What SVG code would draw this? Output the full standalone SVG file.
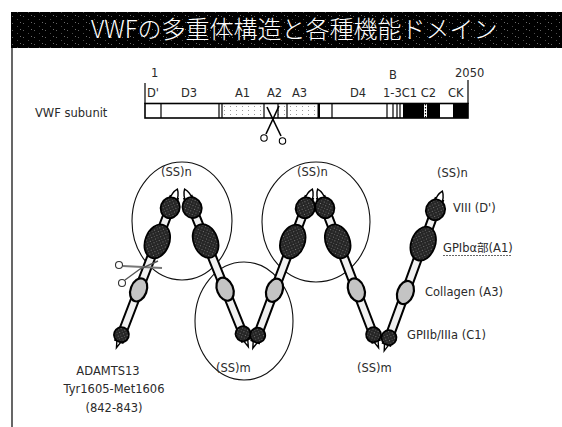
<svg xmlns="http://www.w3.org/2000/svg" width="562" height="427" viewBox="0 0 562 427">
  <style>
    .lbl { font-family: "DejaVu Sans", "Noto Sans CJK JP", sans-serif; font-size: 11.5px; fill: #2a2a2a; }
    .title { font-family: "Noto Sans CJK JP", "Noto Sans", sans-serif; font-size: 24px; fill: #fff; font-weight: 300; }
    .ring { fill: none; stroke: #111; stroke-width: 1.1; }
    .dark { fill: url(#stipple); stroke: #000; stroke-width: 1.8; }
    .light { fill: #c4c4c4; stroke: #000; stroke-width: 2.2; }
    .tip { fill: #fff; stroke: #000; stroke-width: 1.4; }
    .stalk { fill: #f0f0f0; stroke: #000; stroke-width: 2; }
    .seg { stroke: #000; stroke-width: 1.2; }
  </style>
  <defs>
    <pattern id="stipple" width="4" height="4" patternUnits="userSpaceOnUse">
      <rect width="4" height="4" fill="#262626"/>
      <rect x="1" y="1" width="1" height="1" fill="#777"/>
      <rect x="3" y="3" width="1" height="1" fill="#555"/>
    </pattern>
    <pattern id="grain" width="11" height="7" patternUnits="userSpaceOnUse">
      <rect x="1" y="2" width="1" height="1" fill="#8a8a8a"/>
      <rect x="6" y="5" width="1" height="1" fill="#6a6a6a"/>
      <rect x="9" y="1" width="1" height="1" fill="#9a9a9a"/>
    </pattern>
    <pattern id="dots" width="6" height="4" patternUnits="userSpaceOnUse">
      <rect width="6" height="4" fill="#fff"/>
      <rect x="2" y="2" width="1" height="1" fill="#999"/>
    </pattern>
    <!-- one subunit: N-terminal tip at the origin, C-terminal end down the +y axis -->
    <g id="subunit">
      <rect class="stalk" x="-4" y="8" width="8" height="154"/>
      <path class="tip" d="M0,-1 C2.5,2 4,7 3.6,13 L-3.6,13 C-4,7 -2.5,2 0,-1 Z"/>
      <ellipse class="dark" cx="0" cy="19" rx="9.5" ry="10.5"/>
      <ellipse class="dark" cx="0" cy="55" rx="12" ry="17.5"/>
      <ellipse class="light" cx="0" cy="107" rx="8" ry="12"/>
      <path class="tip" d="M-2.8,160 L0,169 L2.8,160 Z"/>
      <circle class="dark" cx="0" cy="155" r="7.5"/>
    </g>
  </defs>

  <rect width="562" height="427" fill="#fff"/>

  <!-- title bar -->
  <g id="title">
    <rect x="11" y="12" width="551" height="36" fill="#000"/>
    <rect x="11" y="12" width="551" height="36" fill="url(#grain)" opacity="0.7"/>
    <text class="title" x="91" y="38">VWFの多重体構造と各種機能ドメイン</text>
  </g>
  <line x1="12" y1="48" x2="12" y2="427" stroke="#000" stroke-width="1.2"/>

  <!-- domain map of a single subunit -->
  <g id="subunit-map">
    <text class="lbl" x="35" y="117">VWF subunit</text>
    <text class="lbl" x="151" y="77">1</text>
    <text class="lbl" x="389" y="79">B</text>
    <text class="lbl" x="455" y="77">2050</text>
    <line class="seg" x1="145" y1="83" x2="145" y2="104"/>
    <line class="seg" x1="468" y1="80" x2="468" y2="104"/>
    <text class="lbl" x="147" y="97">D'</text>
    <text class="lbl" x="181" y="97">D3</text>
    <text class="lbl" x="235" y="97">A1</text>
    <text class="lbl" x="267" y="97">A2</text>
    <text class="lbl" x="292" y="97">A3</text>
    <text class="lbl" x="350" y="97">D4</text>
    <text class="lbl" x="383" y="97">1-3C1 C2</text>
    <text class="lbl" x="448" y="97">CK</text>
    <rect x="145" y="103.5" width="323" height="14.5" fill="#fff"/>
    <rect x="222" y="104" width="42" height="13" fill="url(#dots)"/>
    <rect x="278" y="104" width="9" height="13" fill="url(#dots)"/>
    <rect x="287" y="104" width="31" height="13" fill="url(#dots)"/>
    <rect x="403" y="103.5" width="21" height="14.5" fill="#000"/>
    <rect x="427" y="103.5" width="13" height="14.5" fill="#000"/>
    <rect x="453" y="103.5" width="15" height="14.5" fill="#000"/>
    <rect x="317.5" y="103.5" width="2.5" height="14.5" fill="#000"/>
    <g class="seg">
      <line x1="161" y1="104" x2="161" y2="118"/>
      <line x1="219" y1="104" x2="219" y2="118"/>
      <line x1="222" y1="104" x2="222" y2="118"/>
      <line x1="264" y1="104" x2="264" y2="118"/>
      <line x1="278" y1="104" x2="278" y2="118"/>
      <line x1="287" y1="104" x2="287" y2="118"/>
      <line x1="332" y1="104" x2="332" y2="118"/>
      <line x1="387" y1="104" x2="387" y2="118"/>
      <line x1="393" y1="104" x2="393" y2="118"/>
      <line x1="397" y1="104" x2="397" y2="118"/>
      <line x1="400" y1="104" x2="400" y2="118"/>
      <line x1="425.5" y1="104" x2="425.5" y2="118" stroke-dasharray="1.5 1.5"/>
    </g>
    <rect x="145" y="103.5" width="323" height="14.5" fill="none" stroke="#000" stroke-width="1.6"/>
    <!-- cleavage in A2 -->
    <g id="scissors-a2" fill="none" stroke="#000" stroke-width="1.1">
      <path d="M279,106 L266,134" stroke-width="1.6"/>
      <path d="M267,107 L281,136" stroke-width="1.6"/>
      <circle cx="264" cy="138" r="3.2"/>
      <circle cx="282.5" cy="141" r="3.2"/>
    </g>
  </g>

  <!-- inter-subunit disulfide regions -->
  <g id="rings">
    <ellipse id="ring-n-left" class="ring" cx="182" cy="221" rx="50" ry="59"/>
    <ellipse id="ring-m" class="ring" cx="244" cy="321" rx="49" ry="59"/>
    <ellipse id="ring-n-right" class="ring" cx="316" cy="222" rx="54" ry="60"/>
  </g>

  <!-- multimer chain -->
  <g id="subunit-1"><use href="#subunit" transform="translate(177,190) rotate(21)"/></g>
  <g id="subunit-2"><use href="#subunit" transform="translate(185,190) rotate(-22)"/></g>
  <g id="subunit-3"><use href="#subunit" transform="translate(312,190) rotate(20.5)"/></g>
  <g id="subunit-4"><use href="#subunit" transform="translate(318,190) rotate(-21)"/></g>
  <g id="subunit-5"><use href="#subunit" transform="translate(442,192) rotate(20)"/></g>

  <!-- ADAMTS13 cleavage on the first subunit -->
  <g id="scissors-adamts13" fill="none" stroke="#333" stroke-width="1.1">
    <circle cx="119" cy="265" r="3.5"/>
    <circle cx="122" cy="283" r="3.5"/>
    <path d="M123,266 L162,268" stroke="#777" stroke-width="1.8"/>
    <path d="M125,280 L140,269 L158,261" stroke="#555" stroke-width="1.4"/>
  </g>

  <!-- labels -->
  <g id="labels">
    <text class="lbl" x="161" y="176">(SS)n</text>
    <text class="lbl" x="297" y="176">(SS)n</text>
    <text class="lbl" x="437" y="177">(SS)n</text>
    <text class="lbl" x="453" y="212">VIII (D')</text>
    <text class="lbl" x="443" y="252">GPIbα部(A1)</text>
    <line x1="443" y1="255.5" x2="512" y2="255.5" stroke="#555" stroke-width="0.9" stroke-dasharray="2 1"/>
    <text class="lbl" x="425" y="296">Collagen (A3)</text>
    <text class="lbl" x="407" y="339">GPIIb/IIIa (C1)</text>
    <text class="lbl" x="216" y="372">(SS)m</text>
    <text class="lbl" x="357" y="372">(SS)m</text>
    <text class="lbl" x="108" y="375" text-anchor="middle">ADAMTS13</text>
    <text class="lbl" x="114" y="393" text-anchor="middle">Tyr1605-Met1606</text>
    <text class="lbl" x="114" y="412" text-anchor="middle">(842-843)</text>
  </g>
</svg>
